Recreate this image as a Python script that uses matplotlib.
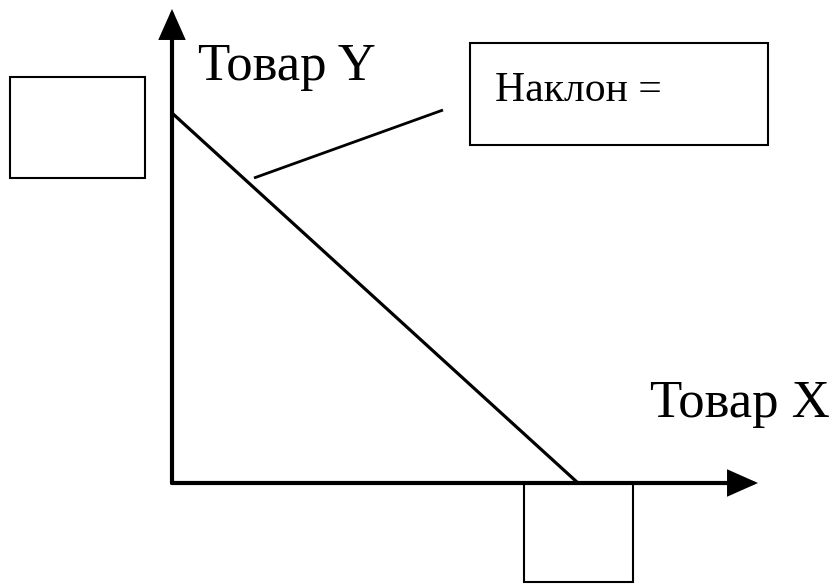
import matplotlib
matplotlib.use("Agg")
import matplotlib.pyplot as plt
from matplotlib.patches import Rectangle

# diagram points, in picture pixels (x right, y down)
origin = (172, 483)
y_tip = (172, 9)
x_tip = (758, 483)
budget_x = [172, 578]
budget_y = [113, 483]
leader_x = [254, 443]
leader_y = [178, 110]

# empty answer boxes: (left, top, width, height)
boxes = [(10, 77, 135, 101), (524, 483, 109, 99), (470, 43, 298, 102)]

labels = ["Товар Y", "Товар X", "Наклон ="]

fig = plt.figure(figsize=(8.36, 5.84), dpi=100)
ax = fig.add_axes([0, 0, 1, 1])
ax.set_xlim(0, 836)
ax.set_ylim(584, 0)
ax.axis("off")

# axes with arrow heads
for tip in [y_tip, x_tip]:
    ax.annotate("", xy=tip, xytext=origin,
                arrowprops=dict(arrowstyle="-|>,head_length=0.45,head_width=0.2",
                                lw=3, color="black", mutation_scale=38,
                                shrinkA=0, shrinkB=0, joinstyle="miter"))

ax.plot(budget_x, budget_y, color="black", lw=2.3, solid_capstyle="butt")
ax.plot(leader_x, leader_y, color="black", lw=2.0, solid_capstyle="butt")

for (l, t, w, h) in boxes:
    ax.add_patch(Rectangle((l, t), w, h, fill=False, edgecolor="black", lw=1.5))

serif = "Liberation Serif"
ax.text(198, 80, labels[0], fontsize=38, family=serif, ha="left", va="baseline")
ax.text(830, 417, labels[1], fontsize=38, family=serif, ha="right", va="baseline")
ax.text(495, 101, labels[2], fontsize=30, family=serif, ha="left", va="baseline")

fig.savefig("out.png", dpi=100, facecolor="white")
